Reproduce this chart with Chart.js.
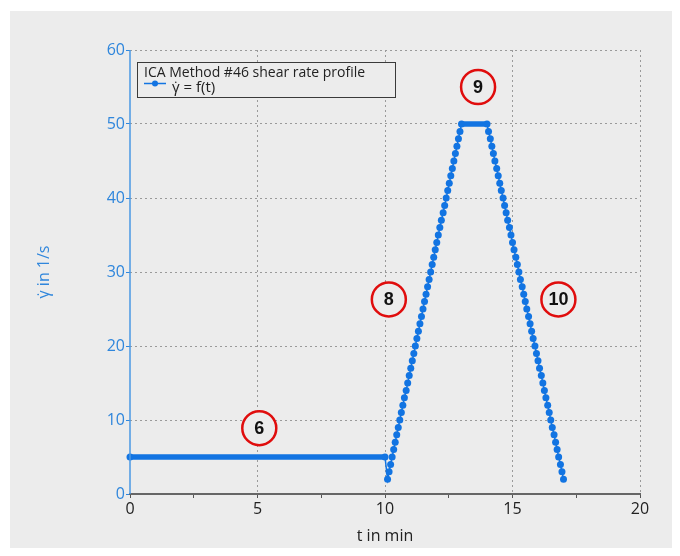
<!DOCTYPE html>
<html><head><meta charset="utf-8">
<script src="https://cdn.jsdelivr.net/npm/chart.js@4.4.0/dist/chart.umd.min.js"></script>
<style>
html,body{margin:0;padding:0;background:#fff;}
#wrap{position:absolute;left:0;top:0;width:680px;height:556px;}
</style></head><body>
<div id="wrap"><canvas id="c" width="680" height="556"></canvas></div>
<script>
// ---- data (t in min, shear rate in 1/s) ----
const plateau6T = [0, 10];
const plateau6Y = [5, 5];
const ramp8T = [10.10,10.16,10.22,10.28,10.34,10.40,10.46,10.52,10.58,10.64,10.70,10.76,10.83,10.89,10.95,11.01,11.07,11.13,11.19,11.25,11.31,11.37,11.43,11.49,11.55,11.61,11.67,11.73,11.79,11.85,11.91,11.97,12.03,12.09,12.15,12.21,12.28,12.34,12.40,12.46,12.52,12.58,12.64,12.70,12.76,12.82,12.88,12.94,13.00];
const ramp8Y = [2,3,4,5,6,7,8,9,10,11,12,13,14,15,16,17,18,19,20,21,22,23,24,25,26,27,28,29,30,31,32,33,34,35,36,37,38,39,40,41,42,43,44,45,46,47,48,49,50];
const plateau9T = [14.00];
const plateau9Y = [50];
const ramp10T = [14.06,14.13,14.19,14.25,14.31,14.38,14.44,14.50,14.56,14.63,14.69,14.75,14.81,14.88,14.94,15.00,15.06,15.13,15.19,15.25,15.31,15.38,15.44,15.50,15.56,15.63,15.69,15.75,15.81,15.88,15.94,16.00,16.06,16.13,16.19,16.25,16.31,16.38,16.44,16.50,16.56,16.63,16.69,16.75,16.81,16.88,16.94,17.00];
const ramp10Y = [49,48,47,46,45,44,43,42,41,40,39,38,37,36,35,34,33,32,31,30,29,28,27,26,25,24,23,22,21,20,19,18,17,16,15,14,13,12,11,10,9,8,7,6,5,4,3,2];

const xTickValues = [0,2.5,5,7.5,10,12.5,15,17.5,20];
const xMajorTicks = [0,5,10,15,20];
const yTickValues = [0,10,20,30,40,50,60];

const markerLabels = ['6','8','9','10'];
const markerT = [5.07, 10.15, 13.65, 16.8];
const markerY = [8.9, 26.3, 55, 26.3];

const legendTitle = 'ICA Method #46 shear rate profile';
const seriesName = 'γ̇ = f(t)';
const xTitle = 't in min';
const yTitle = 'γ̇ in 1/s';

// ---- build ----
const allT = [].concat(plateau6T, ramp8T, plateau9T, ramp10T);
const allY = [].concat(plateau6Y, ramp8Y, plateau9Y, ramp10Y);
const points = allT.map((t,i)=>({x:t, y:allY[i]}));

const FAMILY = '"Open Sans","Noto Sans",sans-serif';
const LINE_BLUE = '#1274e2';
const AXIS_BLUE = '#2f86dc';
const BG = '#ececec';

const bgPlugin = {
  id:'bg',
  beforeDraw(chart){
    const c = chart.ctx;
    c.save();
    c.fillStyle = '#ffffff';
    c.fillRect(0,0,chart.width,chart.height);
    c.fillStyle = BG;
    c.fillRect(10,11,662,537);
    c.restore();
  }
};

const overlayPlugin = {
  id:'overlay',
  afterDatasetsDraw(chart){
    const c = chart.ctx;
    const xs = chart.scales.x, ys = chart.scales.y;
    c.save();
    // solid y axis line
    c.strokeStyle = '#4a98e4';
    c.lineWidth = 1.5;
    c.beginPath(); c.moveTo(xs.left, ys.top); c.lineTo(xs.left, ys.bottom); c.stroke();
    // legend box
    const bx = 137, by = 62, bw = 258, bh = 35;
    c.fillStyle = BG;
    c.fillRect(bx,by,bw,bh);
    c.strokeStyle = '#3a3a3a';
    c.lineWidth = 1;
    c.strokeRect(bx+0.5,by+0.5,bw,bh);
    c.font = '14px '+FAMILY;
    c.fillStyle = '#222';
    c.textBaseline = 'alphabetic';
    c.textAlign = 'left';
    c.fillText(legendTitle, 144, 77);
    c.strokeStyle = LINE_BLUE;
    c.lineWidth = 1.5;
    c.beginPath(); c.moveTo(144,83.5); c.lineTo(166,83.5); c.stroke();
    c.fillStyle = LINE_BLUE;
    c.beginPath(); c.arc(155,83.5,3,0,Math.PI*2); c.fill();
    c.fillStyle = '#222';
    c.font = '15px '+FAMILY;
    c.fillText(seriesName, 172, 92);
    // segment markers
    for (let i=0;i<markerLabels.length;i++){
      const px = xs.getPixelForValue(markerT[i]);
      const py = ys.getPixelForValue(markerY[i]);
      c.beginPath();
      c.arc(px,py,17,0,Math.PI*2);
      c.fillStyle = BG;
      c.fill();
      c.lineWidth = 2.5;
      c.strokeStyle = '#e00d0d';
      c.stroke();
      c.fillStyle = '#111';
      c.font = 'bold 18px "Liberation Sans",Arial,sans-serif';
      c.textAlign = 'center';
      c.textBaseline = 'middle';
      c.fillText(markerLabels[i], px, py+1);
    }
    c.restore();
  }
};

new Chart(document.getElementById('c'), {
  type:'line',
  data:{
    datasets:[{
      label: seriesName,
      data: points,
      borderColor: LINE_BLUE,
      backgroundColor: LINE_BLUE,
      pointBackgroundColor: LINE_BLUE,
      pointBorderWidth: 0,
      pointRadius: 3.5,
      pointHoverRadius: 3.5,
      borderWidth: 1.5,
      tension: 0,
      fill: false,
      clip: false,
      segment:{
        borderWidth: ctx => ctx.p0.parsed.y === ctx.p1.parsed.y ? 5.5 : 1.5
      }
    }]
  },
  options:{
    responsive:false,
    animation:false,
    events:[],
    layout:{padding:{left:0,right:40,top:50,bottom:0}},
    plugins:{legend:{display:false}, tooltip:{enabled:false}},
    scales:{
      x:{
        type:'linear', min:0, max:20,
        afterFit(s){ s.height = 62; },
        afterBuildTicks(s){ s.ticks = xTickValues.map(v=>({value:v})); },
        ticks:{
          autoSkip:false, maxRotation:0, color:'#222', padding:2,
          font:{size:16, family:FAMILY},
          callback: v => xMajorTicks.includes(v) ? String(v) : ''
        },
        grid:{
          color: ctx => (ctx.tick && ctx.tick.value !== 0 && xMajorTicks.includes(ctx.tick.value)) ? '#9a9a9a' : 'rgba(0,0,0,0)',
          lineWidth:1, drawTicks:true, tickLength:4, tickColor:'#555', tickWidth:1
        },
        border:{display:true, color:'#666', width:2, dash:[2,3]},
        title:{display:true, text:xTitle, color:'#222', font:{size:16, family:FAMILY}, padding:{top:0,bottom:10}}
      },
      y:{
        type:'linear', min:0, max:60,
        afterFit(s){ s.width = 130; },
        afterBuildTicks(s){ s.ticks = yTickValues.map(v=>({value:v})); },
        ticks:{color:AXIS_BLUE, padding:1, font:{size:16, family:FAMILY}},
        grid:{
          color: ctx => (ctx.tick && ctx.tick.value === 0) ? 'rgba(0,0,0,0)' : '#9a9a9a',
          lineWidth:1, drawTicks:true, tickLength:4, tickColor:AXIS_BLUE, tickWidth:1
        },
        border:{display:false, dash:[2,3]},
        title:{display:true, text:yTitle, color:AXIS_BLUE, font:{size:16, family:FAMILY}, padding:{top:35,bottom:0}}
      }
    }
  },
  plugins:[bgPlugin, overlayPlugin]
});
</script>
</body></html>
